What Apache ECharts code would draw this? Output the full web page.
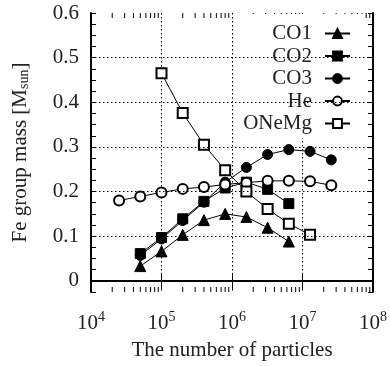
<!DOCTYPE html>
<html>
<head>
<meta charset="utf-8">
<script src="https://cdn.jsdelivr.net/npm/echarts@6/dist/echarts.min.js"></script>
<style>
  html, body { margin: 0; padding: 0; background: #fff; }
  #chart { width: 390px; height: 366px; }
</style>
</head>
<body>
<div id="chart"></div>
<script>
// particle numbers (x) and Fe group mass (y) for each model
const xCO = [5e4, 1e5, 2e5, 4e5, 8e5, 1.6e6, 3.2e6, 6.4e6];
const co1 = [0.033, 0.066, 0.103, 0.136, 0.150, 0.143, 0.119, 0.088];
const co2 = [0.061, 0.097, 0.139, 0.178, 0.208, 0.221, 0.205, 0.173];
const xCO3 = [5e4, 1e5, 2e5, 4e5, 8e5, 1.6e6, 3.2e6, 6.4e6, 1.28e7, 2.56e7];
const co3 = [0.057, 0.094, 0.135, 0.176, 0.221, 0.254, 0.283, 0.294, 0.290, 0.271];
const xHe = [2.5e4, 5e4, 1e5, 2e5, 4e5, 8e5, 1.6e6, 3.2e6, 6.4e6, 1.28e7, 2.56e7];
const he = [0.180, 0.189, 0.198, 0.206, 0.210, 0.216, 0.220, 0.224, 0.224, 0.223, 0.214];
const xONeMg = [1e5, 2e5, 4e5, 8e5, 1.6e6, 3.2e6, 6.4e6, 1.28e7];
const oneMg = [0.465, 0.376, 0.305, 0.248, 0.200, 0.161, 0.128, 0.103];

const yGrid = [0, 0.1, 0.2, 0.3, 0.4, 0.5];
const xMin = 1e4, xMax = 1e8;
const yMin = -0.025, yMax = 0.6;

// minor log ticks 2..9 x 10^n
const minorTicks = [];
for (let e = 4; e < 8; e++) {
  for (let k = 2; k <= 9; k++) minorTicks.push(k * Math.pow(10, e));
}

const FONT = 'Liberation Serif';
const pairs = (xs, ys) => xs.map((x, i) => [x, ys[i]]);

const chart = echarts.init(document.getElementById('chart'), null, { renderer: 'canvas' });

const lineSeries = (name, xs, ys, symbol) => ({
  name: name,
  type: 'line',
  data: pairs(xs, ys),
  symbol: symbol,
  symbolSize: symbol === 'triangle' ? 11 : 10,
  showAllSymbol: true,
  lineStyle: { color: '#000', width: 1 },
  itemStyle: { color: '#000', borderColor: '#000', borderWidth: 1 },
  emphasis: { disabled: true },
  z: 3
});

const axisBase = {
  axisLine: { show: true, lineStyle: { color: '#000', width: 2 } },
  axisTick: { show: true, inside: true, lineStyle: { color: '#000', width: 1 } }
};

const option = {
  animation: false,
  backgroundColor: '#fff',
  grid: { left: 91, right: 13, top: 13, bottom: 68 },
  legend: {
    data: ['CO1', 'CO2', 'CO3', 'He', 'ONeMg'],
    orient: 'vertical',
    align: 'right',
    right: 25,
    top: 14,
    padding: [9, 14, 4, 8],
    backgroundColor: '#fff',
    itemWidth: 25,
    itemHeight: 11,
    itemGap: 1.5,
    textStyle: { fontFamily: FONT, fontSize: 21, color: '#222', lineHeight: 20, padding: [0, 8, 0, 0] }
  },
  xAxis: [{
    ...axisBase,
    type: 'log',
    logBase: 10,
    min: xMin,
    max: xMax,
    splitNumber: 4,
    position: 'bottom',
    axisTick: { ...axisBase.axisTick, length: 8 },
    splitLine: { show: true, lineStyle: { color: '#000', width: 1, type: [1.5, 2.5] } },
    axisLabel: {
      margin: 18,
      formatter: v => '{b|10}{s|' + Math.round(Math.log10(v)) + '}',
      rich: {
        b: { fontFamily: FONT, fontSize: 21, color: '#222', lineHeight: 24, verticalAlign: 'bottom' },
        s: { fontFamily: FONT, fontSize: 14, color: '#222', lineHeight: 24, verticalAlign: 'top' }
      }
    },
    name: 'The number of particles',
    nameLocation: 'middle',
    nameGap: 48,
    nameTextStyle: { fontFamily: FONT, fontSize: 21, color: '#222' }
  }, {
    ...axisBase,
    type: 'log',
    logBase: 10,
    min: xMin,
    max: xMax,
    splitNumber: 4,
    position: 'top',
    axisTick: { ...axisBase.axisTick, length: 8 },
    axisLabel: { show: false },
    splitLine: { show: false }
  }],
  yAxis: [{
    ...axisBase,
    type: 'value',
    min: yMin,
    max: yMax,
    interval: 0.025,
    position: 'left',
    axisTick: { ...axisBase.axisTick, length: 5 },
    splitLine: { show: false },
    axisLabel: {
      margin: 12,
      fontFamily: FONT,
      fontSize: 21,
      color: '#222',
      formatter: v => {
        const t = v * 10;
        if (v < -1e-9 || Math.abs(t - Math.round(t)) > 1e-6) return '';
        return Math.round(t) === 0 ? '0' : (Math.round(t) / 10).toFixed(1);
      }
    },
    name: 'Fe group mass [M{sub|sun}]',
    nameLocation: 'middle',
    nameGap: 60,
    nameRotate: 90,
    nameTextStyle: {
      fontFamily: FONT, fontSize: 21, color: '#222',
      rich: { sub: { fontFamily: FONT, fontSize: 14, color: '#222', verticalAlign: 'bottom', padding: [6, 0, 0, 0] } }
    }
  }, {
    ...axisBase,
    type: 'value',
    min: yMin,
    max: yMax,
    interval: 0.025,
    position: 'right',
    axisTick: { ...axisBase.axisTick, length: 5 },
    axisLabel: { show: false },
    splitLine: { show: false }
  }],
  series: [
    {
      name: 'ticks',
      type: 'custom',
      silent: true,
      clip: false,
      z: 1,
      data: minorTicks.map(v => [v, 0]),
      encode: { x: 0, y: 1 },
      renderItem: function (params, api) {
        const x = api.value(0);
        const b = api.coord([x, yMin]);
        const t = api.coord([x, yMax]);
        const style = { stroke: '#000', lineWidth: 1 };
        return {
          type: 'group',
          children: [
            { type: 'line', shape: { x1: b[0], y1: b[1], x2: b[0], y2: b[1] - 5 }, style: style },
            { type: 'line', shape: { x1: t[0], y1: t[1], x2: t[0], y2: t[1] + 5 }, style: style }
          ]
        };
      },
      markLine: {
        silent: true,
        symbol: 'none',
        label: { show: false },
        lineStyle: { color: '#000', width: 1, type: [1.5, 2.5] },
        data: yGrid.map(v => ({ yAxis: v }))
      }
    },
    lineSeries('CO1', xCO, co1, 'triangle'),
    lineSeries('CO2', xCO, co2, 'rect'),
    lineSeries('CO3', xCO3, co3, 'circle'),
    lineSeries('He', xHe, he, 'emptyCircle'),
    lineSeries('ONeMg', xONeMg, oneMg, 'emptyRect')
  ]
};

chart.setOption(option);
</script>
</body>
</html>
